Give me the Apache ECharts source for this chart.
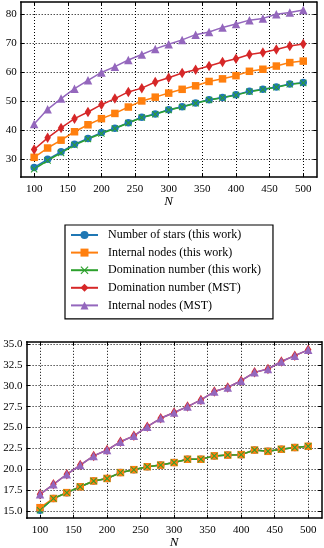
<!DOCTYPE html>
<html>
<head>
<meta charset="utf-8">
<script src="https://cdn.jsdelivr.net/npm/echarts@6/dist/echarts.min.js"></script>
<style>
  html, body { margin: 0; padding: 0; background: #fff; }
  #chart { width: 324px; height: 548px; }
</style>
</head>
<body>
<div id="chart"></div>
<script>
// N values on the x axis
const nValues = [100, 120, 140, 160, 180, 200, 220, 240, 260, 280, 300, 320, 340, 360, 380, 400, 420, 440, 460, 480, 500]
const xTicks = [100, 150, 200, 250, 300, 350, 400, 450, 500]
const topYTicks = [30, 40, 50, 60, 70, 80]
const bottomYTicks = [15, 17.5, 20, 22.5, 25, 27.5, 30, 32.5, 35]

const seriesNames = [
  'Number of stars (this work)',
  'Internal nodes (this work)',
  'Domination number (this work)',
  'Domination number (MST)',
  'Internal nodes (MST)'
]

// upper panel
const topStars = [27.2, 30.0, 32.6, 35.2, 37.2, 39.2, 40.7, 42.6, 44.5, 45.6, 47.1, 48.1, 49.4, 50.5, 51.3, 52.2, 53.4, 54.1, 54.9, 55.9, 56.4]
const topInternal = [30.7, 33.9, 36.6, 39.5, 41.9, 44.0, 45.8, 48.0, 50.1, 51.4, 52.8, 54.1, 55.3, 56.8, 57.7, 58.8, 60.3, 61.0, 62.1, 63.3, 63.8]
const topDomination = [26.6, 29.6, 32.2, 34.9, 37.0, 38.9, 40.6, 42.5, 44.4, 45.5, 47.0, 48.0, 49.3, 50.4, 51.2, 52.1, 53.3, 54.0, 54.8, 55.8, 56.3]
const topDominationMST = [33.4, 37.4, 40.8, 44.0, 46.3, 48.8, 50.9, 53.2, 54.5, 56.6, 58.1, 59.7, 60.8, 62.1, 63.5, 64.6, 66.1, 66.8, 67.8, 69.0, 69.7]
const topInternalMST = [42.2, 47.2, 50.9, 54.3, 57.2, 59.9, 61.9, 64.2, 66.1, 68.0, 69.6, 71.1, 72.9, 73.8, 75.4, 76.6, 77.9, 78.5, 79.9, 80.5, 81.4]

// lower panel
const bottomStars = [15.1, 16.5, 17.2, 17.9, 18.6, 18.9, 19.6, 19.95, 20.3, 20.5, 20.8, 21.2, 21.2, 21.6, 21.7, 21.75, 22.3, 22.15, 22.4, 22.6, 22.75]
const bottomInternal = [15.4, 16.5, 17.2, 17.9, 18.6, 18.9, 19.6, 19.95, 20.3, 20.5, 20.8, 21.2, 21.2, 21.6, 21.7, 21.75, 22.3, 22.15, 22.4, 22.6, 22.75]
const bottomDomination = [15.1, 16.5, 17.2, 17.9, 18.6, 18.9, 19.6, 19.95, 20.3, 20.5, 20.8, 21.2, 21.2, 21.6, 21.7, 21.75, 22.3, 22.15, 22.4, 22.6, 22.75]
const bottomDominationMST = [17.0, 18.2, 19.4, 20.5, 21.6, 22.3, 23.3, 24.0, 25.1, 26.1, 26.8, 27.5, 28.3, 29.3, 29.8, 30.6, 31.6, 32.0, 32.9, 33.6, 34.3]
const bottomInternalMST = [17.0, 18.2, 19.4, 20.5, 21.6, 22.3, 23.3, 24.0, 25.1, 26.1, 26.8, 27.5, 28.3, 29.3, 29.8, 30.6, 31.6, 32.0, 32.9, 33.6, 34.3]

const colors = ['#1f77b4', '#ff7f0e', '#2ca02c', '#d62728', '#9467bd']
const crossPath = 'path://M0,1L1,0L5,4L9,0L10,1L6,5L10,9L9,10L5,6L1,10L0,9L4,5Z'
const symbols = ['circle', 'rect', crossPath, 'diamond', 'triangle']
const symbolSizes = [7.5, 7.5, 7, [6.5, 10.5], 8.5]

const serif = 'Liberation Serif'

const chart = echarts.init(document.getElementById('chart'))

function pairs(values) {
  return nValues.map((n, i) => [n, values[i]])
}

function makeSeries(idx, values, panel) {
  return {
    name: seriesNames[idx],
    type: 'line',
    xAxisIndex: panel * 2,
    yAxisIndex: panel * 2,
    data: pairs(values),
    color: colors[idx],
    symbol: symbols[idx],
    symbolSize: symbolSizes[idx],
    showAllSymbol: true,
    lineStyle: { width: 1.5, color: colors[idx] },
    itemStyle: { color: colors[idx] },
    emphasis: { disabled: true },
    animation: false
  }
}

function xAxes(panel, nameGap) {
  const main = {
    type: 'value',
    gridIndex: panel,
    min: 80,
    max: 520,
    name: 'N',
    nameLocation: 'middle',
    nameGap: nameGap,
    nameTextStyle: { fontFamily: serif, fontStyle: 'italic', fontSize: 13, color: '#000' },
    axisLine: { show: true, onZero: false, lineStyle: { color: '#000', width: 1.5 } },
    axisTick: { show: true, inside: true, length: 3.5, customValues: xTicks, lineStyle: { color: '#000', width: 1 } },
    axisLabel: { customValues: xTicks, margin: 6, fontFamily: serif, fontSize: 11, color: '#000' },
    splitLine: { show: true, lineStyle: { color: '#000', type: [1, 2], width: 1 } }
  }
  const opposite = {
    type: 'value',
    gridIndex: panel,
    position: 'top',
    min: 80,
    max: 520,
    axisLine: { show: true, onZero: false, lineStyle: { color: '#000', width: 1.5 } },
    axisTick: { show: true, inside: true, length: 3.5, customValues: xTicks, lineStyle: { color: '#000', width: 1 } },
    axisLabel: { show: false },
    splitLine: { show: false }
  }
  return [main, opposite]
}

function yAxes(panel, min, max, ticks, fmt) {
  const main = {
    type: 'value',
    gridIndex: panel,
    min: min,
    max: max,
    axisLine: { show: true, onZero: false, lineStyle: { color: '#000', width: 1.5 } },
    axisTick: { show: true, inside: true, length: 3.5, customValues: ticks, lineStyle: { color: '#000', width: 1 } },
    axisLabel: { customValues: ticks, margin: 4, fontFamily: serif, fontSize: 11, color: '#000', formatter: fmt },
    splitLine: { show: true, lineStyle: { color: '#000', type: [1, 2], width: 1 } }
  }
  const opposite = {
    type: 'value',
    gridIndex: panel,
    position: 'right',
    min: min,
    max: max,
    axisLine: { show: true, onZero: false, lineStyle: { color: '#000', width: 1.5 } },
    axisTick: { show: true, inside: true, length: 3.5, customValues: ticks, lineStyle: { color: '#000', width: 1 } },
    axisLabel: { show: false },
    splitLine: { show: false }
  }
  return [main, opposite]
}

const topValues = [topStars, topInternal, topDomination, topDominationMST, topInternalMST]
const bottomValues = [bottomStars, bottomInternal, bottomDomination, bottomDominationMST, bottomInternalMST]

const series = []
topValues.forEach((v, i) => series.push(makeSeries(i, v, 0)))
bottomValues.forEach((v, i) => series.push(makeSeries(i, v, 1)))

chart.setOption({
  animation: false,
  grid: [
    { left: 20.7, top: 2, width: 296, height: 175.2, outerBoundsMode: 'none' },
    { left: 26.6, top: 341.8, width: 295, height: 176.4, outerBoundsMode: 'none' }
  ],
  legend: {
    orient: 'vertical',
    left: 65,
    top: 225,
    padding: [3, 12, 6.5, 5],
    itemWidth: 27,
    itemHeight: 10,
    itemGap: 3.6,
    borderColor: '#000',
    borderWidth: 1.2,
    borderRadius: 0,
    data: seriesNames,
    textStyle: { fontFamily: serif, fontSize: 12, color: '#000', lineHeight: 14, padding: [0, 0, 0, 5] }
  },
  xAxis: [...xAxes(0, 16), ...xAxes(1, 16)],
  yAxis: [
    ...yAxes(0, 23.86, 84.14, topYTicks, v => String(v)),
    ...yAxes(1, 14.14, 35.26, bottomYTicks, v => Number(v).toFixed(1))
  ],
  series: series
})
</script>
</body>
</html>
